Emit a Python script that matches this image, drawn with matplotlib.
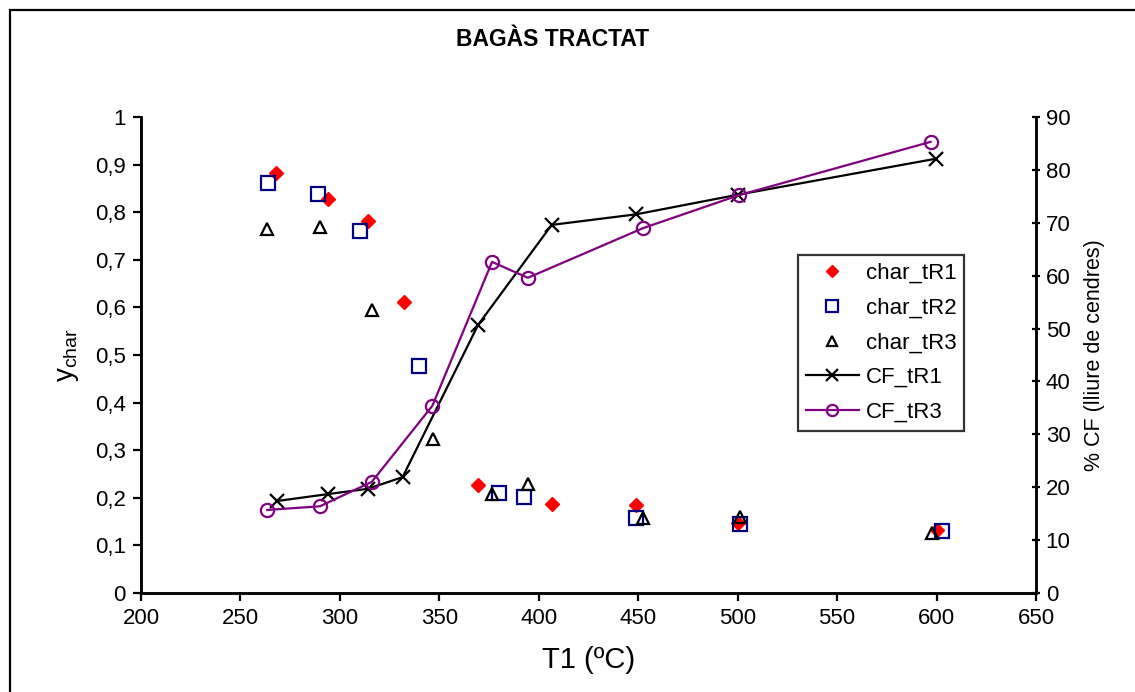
import matplotlib
matplotlib.use("Agg")
import matplotlib.pyplot as plt
from matplotlib.ticker import FuncFormatter, MultipleLocator
from matplotlib.patches import Rectangle

plt.rcParams['font.family'] = ['Liberation Sans', 'DejaVu Sans']

# Char yield (left axis)
t_char_r1 = [268, 294, 314, 332, 369.5, 406.5, 449, 500, 600]
y_char_r1 = [0.882, 0.828, 0.781, 0.611, 0.227, 0.187, 0.185, 0.147, 0.132]

t_char_r2 = [264, 289, 310, 340, 380, 392.5, 449, 501, 602.5]
y_char_r2 = [0.861, 0.838, 0.761, 0.477, 0.210, 0.202, 0.158, 0.145, 0.130]

t_char_r3 = [263.5, 290, 316, 347, 376.5, 394.5, 452.5, 501, 597.5]
y_char_r3 = [0.765, 0.769, 0.595, 0.323, 0.208, 0.229, 0.158, 0.160, 0.126]

# Fixed carbon, ash-free basis (right axis)
t_cf_r1 = [268.5, 294, 314, 331.5, 369.5, 406.5, 449, 500, 599.5]
cf_r1 = [17.4, 18.7, 19.7, 21.9, 50.7, 69.6, 71.6, 75.3, 82.1]

t_cf_r3 = [263.5, 290, 316, 346.5, 376.5, 394.5, 452.5, 500.5, 597]
cf_r3 = [15.7, 16.4, 21.0, 35.4, 62.6, 59.6, 69.0, 75.2, 85.3]

fig = plt.figure(figsize=(11.35, 6.92), dpi=100)
W, H = 1135, 692

# outer chart frame
fig.patches.append(Rectangle((10 / W, -0.1), 1.2, 1 - 10 / H + 0.1,
                             transform=fig.transFigure, fill=False,
                             edgecolor='black', linewidth=1.6))

ax = fig.add_axes([141 / W, 1 - 593 / H, (1036 - 141) / W, (593 - 117) / H])
ax2 = ax.twinx()

ax.set_xlim(200, 650)
ax.set_ylim(0, 1)
ax2.set_ylim(0, 90)

h1, = ax.plot(t_char_r1, y_char_r1, linestyle='none', marker='D', markersize=7.5,
              color='#ff0000', markeredgecolor='#ff0000', label='char_tR1')
h2, = ax.plot(t_char_r2, y_char_r2, linestyle='none', marker='s', markersize=10,
              markerfacecolor='none', markeredgecolor='#000080', markeredgewidth=1.6,
              label='char_tR2')
h3, = ax.plot(t_char_r3, y_char_r3, linestyle='none', marker='^', markersize=9,
              markerfacecolor='none', markeredgecolor='black', markeredgewidth=1.6,
              label='char_tR3')

h4, = ax2.plot(t_cf_r1, cf_r1, color='black', linewidth=1.6, marker='x',
               markersize=10, markeredgewidth=1.6, label='CF_tR1')
h5, = ax2.plot(t_cf_r3, cf_r3, color='#800080', linewidth=1.6, marker='o',
               markersize=9.5, markerfacecolor='none', markeredgecolor='#800080',
               markeredgewidth=1.6, label='CF_tR3')

comma = FuncFormatter(lambda v, p: ('%g' % round(v, 2)).replace('.', ','))
ax.xaxis.set_major_locator(MultipleLocator(50))
ax.yaxis.set_major_locator(MultipleLocator(0.1))
ax.yaxis.set_major_formatter(comma)
ax2.yaxis.set_major_locator(MultipleLocator(10))

for a in (ax, ax2):
    for s in a.spines.values():
        s.set_linewidth(1.8)
    a.spines['top'].set_visible(False)

ax.tick_params(axis='both', labelsize=16, width=1.6, length=6, direction='out')
ax.tick_params(axis='x', pad=5)
ax.tick_params(axis='y', pad=5)
ax2.tick_params(axis='y', labelsize=16, width=1.6, length=6, direction='inout', pad=4)

ax.set_xlabel('T1 (ºC)', fontsize=21, labelpad=12)
ax.set_ylabel(r'y$_{\mathregular{char}}$', fontsize=20, labelpad=10)
ax2.set_ylabel('% CF (lliure de cendres)', fontsize=15.5, labelpad=10)

fig.text(553 / W, 1 - 40 / H, 'BAGÀS TRACTAT', ha='center', va='center',
         fontsize=16.5, fontweight='bold')

leg = ax2.legend(handles=[h1, h2, h3, h4, h5], loc='upper left',
                 bbox_to_anchor=((798 - 141) / (1036 - 141), (593 - 255) / (593 - 117)),
                 fontsize=16, frameon=True, fancybox=False, borderpad=0.35,
                 handlelength=2.4, handletextpad=0.3, labelspacing=0.62,
                 borderaxespad=0, markerscale=0.85)
leg.get_frame().set_edgecolor('black')
leg.get_frame().set_linewidth(1.6)

fig.savefig('out.png', dpi=100)
